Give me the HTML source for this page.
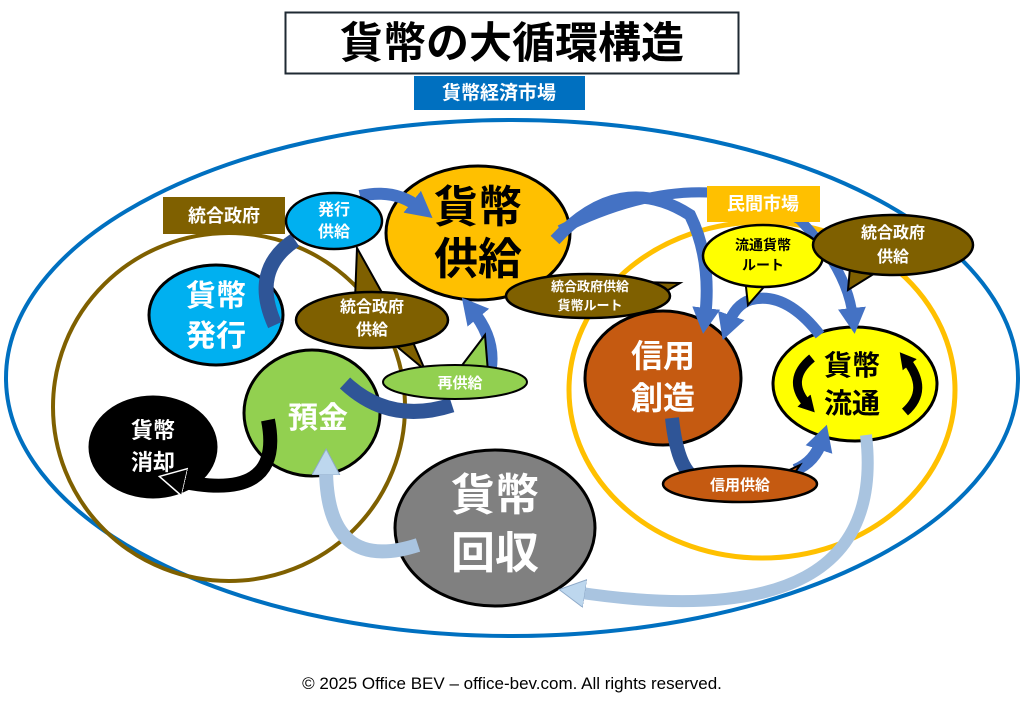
<!DOCTYPE html>
<html><head><meta charset="utf-8"><style>
html,body{margin:0;padding:0;background:#fff;}
svg{display:block;font-family:"Liberation Sans","Noto Sans CJK JP",sans-serif;font-weight:bold;}
</style></head><body>
<svg width="1024" height="707" viewBox="0 0 1024 707" xmlns="http://www.w3.org/2000/svg">
<defs>
<marker id="hb" markerUnits="userSpaceOnUse" markerWidth="40" markerHeight="40" refX="10" refY="14" orient="auto"><path d="M0,0 L26,14 L0,28 Z" fill="#4472c4"/></marker>
<marker id="hk" markerUnits="userSpaceOnUse" markerWidth="40" markerHeight="40" refX="10" refY="14" orient="auto"><path d="M0,0 L26,14 L0,28 Z" fill="#000" stroke="#fff" stroke-width="1.5"/></marker>
<marker id="hl" markerUnits="userSpaceOnUse" markerWidth="40" markerHeight="40" refX="10" refY="14" orient="auto"><path d="M0,0 L26,14 L0,28 Z" fill="#bdd7ee" stroke="#8ea9c8" stroke-width="1"/></marker>
<marker id="hs" markerUnits="userSpaceOnUse" markerWidth="24" markerHeight="24" refX="6" refY="9" orient="auto"><path d="M0,0 L16,9 L0,18 Z" fill="#000"/></marker>
</defs>

<rect x="285.5" y="12.5" width="453" height="61" fill="#fff" stroke="#1f2a33" stroke-width="2"/>
<text x="512" y="58" font-size="43" text-anchor="middle" fill="#000">貨幣の大循環構造</text>

<ellipse cx="512" cy="378" rx="506" ry="258" fill="none" stroke="#0070c0" stroke-width="4"/>
<rect x="414" y="76" width="171" height="34" fill="#0070c0"/>
<text x="499" y="99" font-size="19" text-anchor="middle" fill="#fff">貨幣経済市場</text>

<ellipse cx="229" cy="407" rx="176" ry="174" fill="none" stroke="#7f6000" stroke-width="4"/>
<rect x="163" y="197" width="122" height="37" fill="#7f6000"/>
<text x="224" y="222" font-size="18" text-anchor="middle" fill="#fff">統合政府</text>

<ellipse cx="762" cy="390" rx="193" ry="168" fill="none" stroke="#ffc000" stroke-width="5"/>

<ellipse cx="478" cy="233" rx="92" ry="67" fill="#ffc000" stroke="#000" stroke-width="3"/>
<text x="478" y="222" font-size="44" text-anchor="middle" fill="#000">貨幣</text>
<text x="478" y="274" font-size="44" text-anchor="middle" fill="#000">供給</text>

<ellipse cx="216" cy="315" rx="67" ry="50" fill="#00b0f0" stroke="#000" stroke-width="3"/>
<text x="216" y="306" font-size="30" text-anchor="middle" fill="#fff">貨幣</text>
<text x="216" y="346" font-size="30" text-anchor="middle" fill="#fff">発行</text>

<ellipse cx="312" cy="413" rx="68" ry="63" fill="#92d050" stroke="#000" stroke-width="3"/>
<text x="318" y="428" font-size="30" text-anchor="middle" fill="#fff">預金</text>

<ellipse cx="153" cy="447" rx="63" ry="50" fill="#000" stroke="#000" stroke-width="3"/>
<text x="153" y="438" font-size="22" text-anchor="middle" fill="#fff">貨幣</text>
<text x="153" y="470" font-size="22" text-anchor="middle" fill="#fff">消却</text>

<ellipse cx="495" cy="528" rx="100" ry="78" fill="#808080" stroke="#000" stroke-width="3"/>
<text x="495" y="510" font-size="44" text-anchor="middle" fill="#fff">貨幣</text>
<text x="495" y="568" font-size="44" text-anchor="middle" fill="#fff">回収</text>

<ellipse cx="663" cy="378" rx="78" ry="67" fill="#c55a11" stroke="#000" stroke-width="3"/>
<text x="663" y="367" font-size="32" text-anchor="middle" fill="#fff">信用</text>
<text x="663" y="409" font-size="32" text-anchor="middle" fill="#fff">創造</text>

<ellipse cx="855" cy="384" rx="82" ry="57" fill="#ffff00" stroke="#000" stroke-width="3"/>
<text x="852" y="375" font-size="28" text-anchor="middle" fill="#000">貨幣</text>
<text x="852" y="413" font-size="28" text-anchor="middle" fill="#000">流通</text>
<path d="M812 358 Q785 380 808 405" fill="none" stroke="#000" stroke-width="9" marker-end="url(#hs)"/>
<path d="M905 412 Q930 390 906 360" fill="none" stroke="#000" stroke-width="9" marker-end="url(#hs)"/>

<path d="M275 325 Q250 270 295 240" fill="none" stroke="#2f5597" stroke-width="15"/>
<path d="M360 196 Q395 188 420 208" fill="none" stroke="#4472c4" stroke-width="12" marker-end="url(#hb)"/>
<path d="M345 383 Q390 425 452 405" fill="none" stroke="#2f5597" stroke-width="15"/>
<path d="M482 395 Q505 350 472 310" fill="none" stroke="#4472c4" stroke-width="12" marker-end="url(#hb)"/>
<path d="M268 420 Q285 505 175 480" fill="none" stroke="#000" stroke-width="14" marker-end="url(#hk)"/>
<path d="M418 545 Q325 575 326 465" fill="none" stroke="#a9c4e0" stroke-width="14" marker-end="url(#hl)"/>
<path d="M555 240 Q620 170 690 215 Q712 260 705 318" fill="none" stroke="#4472c4" stroke-width="12" marker-end="url(#hb)"/>
<path d="M560 230 Q700 160 800 220 Q848 270 853 318" fill="none" stroke="#4472c4" stroke-width="10" marker-end="url(#hb)"/>
<path d="M820 335 Q785 290 750 300 Q735 305 728 325" fill="none" stroke="#4472c4" stroke-width="11" marker-end="url(#hb)"/>
<path d="M672 418 Q678 475 700 480" fill="none" stroke="#2f5597" stroke-width="14"/>
<path d="M795 470 Q815 462 822 440" fill="none" stroke="#4472c4" stroke-width="12" marker-end="url(#hb)"/>
<path d="M866 435 Q890 640 575 592" fill="none" stroke="#a9c4e0" stroke-width="12" marker-end="url(#hl)"/>

<rect x="707" y="186" width="113" height="36" fill="#ffc000"/>
<text x="763" y="210" font-size="18" text-anchor="middle" fill="#fff">民間市場</text>

<ellipse cx="334" cy="221" rx="48" ry="28" fill="#00b0f0" stroke="#000" stroke-width="2.5"/>
<text x="334" y="215" font-size="16" text-anchor="middle" fill="#fff">発行</text>
<text x="334" y="237" font-size="16" text-anchor="middle" fill="#fff">供給</text>

<path d="M355 300 L357 248 L385 298 Z M395 345 L425 370 L412 340 Z" fill="#7f6000" stroke="#000" stroke-width="2"/>
<ellipse cx="372" cy="320" rx="76" ry="28" fill="#7f6000" stroke="#000" stroke-width="2.5"/>
<text x="372" y="312" font-size="16" text-anchor="middle" fill="#fff">統合政府</text>
<text x="372" y="335" font-size="16" text-anchor="middle" fill="#fff">供給</text>

<path d="M460 368 L485 335 L488 372 Z" fill="#92d050" stroke="#000" stroke-width="2"/>
<ellipse cx="455" cy="382" rx="72" ry="17" fill="#92d050" stroke="#000" stroke-width="2"/>
<text x="460" y="388" font-size="15" text-anchor="middle" fill="#fff">再供給</text>

<path d="M640 282 L680 283 L660 295 Z" fill="#7f6000" stroke="#000" stroke-width="2"/>
<ellipse cx="588" cy="296" rx="82" ry="22" fill="#7f6000" stroke="#000" stroke-width="2.5"/>
<text x="590" y="291" font-size="13" text-anchor="middle" fill="#fff">統合政府供給</text>
<text x="590" y="310" font-size="13" text-anchor="middle" fill="#fff">貨幣ルート</text>

<path d="M745 278 L748 305 L770 280 Z" fill="#ffff00" stroke="#000" stroke-width="2"/>
<ellipse cx="763" cy="256" rx="60" ry="31" fill="#ffff00" stroke="#000" stroke-width="2.5"/>
<text x="763" y="250" font-size="14" text-anchor="middle" fill="#000">流通貨幣</text>
<text x="763" y="270" font-size="14" text-anchor="middle" fill="#000">ルート</text>

<path d="M850 268 L848 290 L880 270 Z" fill="#7f6000" stroke="#000" stroke-width="2"/>
<ellipse cx="893" cy="245" rx="80" ry="30" fill="#7f6000" stroke="#000" stroke-width="2.5"/>
<text x="893" y="238" font-size="16" text-anchor="middle" fill="#fff">統合政府</text>
<text x="893" y="262" font-size="16" text-anchor="middle" fill="#fff">供給</text>

<path d="M785 472 L800 465 L790 480 Z" fill="#c55a11" stroke="#000" stroke-width="2"/>
<ellipse cx="740" cy="484" rx="77" ry="18" fill="#c55a11" stroke="#000" stroke-width="2.5"/>
<text x="740" y="490" font-size="15" text-anchor="middle" fill="#fff">信用供給</text>

<text x="512" y="689" font-size="17" font-weight="normal" text-anchor="middle" fill="#000">© 2025 Office BEV – office-bev.com. All rights reserved.</text>
</svg>
</body></html>
